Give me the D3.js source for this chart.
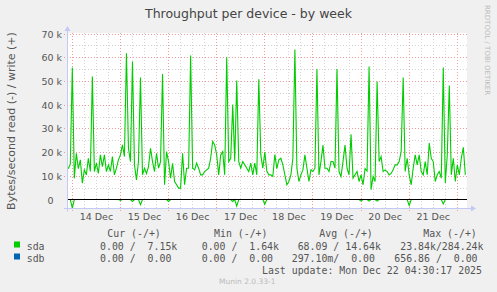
<!DOCTYPE html>
<html lang="en">
<head>
<meta charset="UTF-8"/>
<title>Throughput per device - by week</title>
<script src="https://d3js.org/d3.v7.min.js"></script>
<style>
  body { margin: 0; background-color: #f0f0f0; }
  svg text { font-family: "DejaVu Sans", sans-serif; fill: #555; }
  svg text.mono { font-family: "DejaVu Sans Mono", monospace; font-size: 9.9px; white-space: pre; }
</style>
</head>
<body>
<script>
// sample start (hourly samples), values in k bytes/s
var startTime = Date.UTC(2025, 11, 13, 22, 0);

var sdaWrite = [
  13, 15, 55.7, 9, 19.5, 13, 16.7, 6.9, 12.5, 10.4,
  17.4, 11.8, 51.9, 11.8, 15.3, 11, 18.8, 13.9, 18.8, 11.8,
  14.6, 11.8, 18.1, 10.4, 13.2, 16.7, 18.8, 23, 18.1, 61.7,
  21.6, 16, 58.2, 14.6, 8.3, 16, 51.4, 10.4, 13.2, 11,
  13.9, 21.6, 16, 11.8, 19.5, 13.2, 16, 52.9, 6.2, 20.2,
  16, 9, 15.3, 7.6, 6.2, 4.8, 4.8, 19.5, 6.2, 13.2,
  13.2, 60.7, 13.2, 12.5, 15.3, 13.2, 10.4, 10.4, 11.8, 12.5,
  13.2, 17.4, 24.5, 23, 18.8, 10.4, 18.8, 20.2, 10.4, 60,
  16, 17.4, 40, 16, 50.2, 16, 13.2, 16, 14.6, 13.2,
  11.8, 15.3, 10.4, 15.3, 10.4, 50.7, 18.8, 13.2, 20, 12,
  10.4, 10.4, 9.7, 19, 13, 16.7, 17.4, 14.6, 10.4, 6.2,
  7.6, 10.4, 17.4, 63.3, 13.2, 7.6, 10.4, 12.5, 18.8, 13.2,
  7.6, 12.5, 11.8, 13.2, 55, 10.4, 16, 23, 13.2, 13.2,
  11.8, 16, 16, 13.2, 55, 11.8, 9.7, 16, 23, 13.2,
  10.4, 27.5, 9, 10.4, 11.8, 7.6, 10.4, 6.2, 13, 12,
  56.1, 4.1, 9.7, 7.6, 49.8, 16, 18.1, 11.8, 12.5, 11.8,
  10.4, 11, 12.5, 14.6, 14.6, 16, 20.2, 51.4, 11.8, 17.4,
  10.4, 6.2, 13.2, 18.8, 14.6, 18.8, 11.8, 10.4, 16, 10.4,
  23.8, 17.4, 16, 7.6, 10.4, 11.8, 9, 55.7, 7, 18.8,
  48.1, 10.4, 17.4, 7.6, 14.6, 10.4, 17.4, 22, 10.4
];

var sdaRead = [
  0, 0, -3.6, 0, 0, 0, 0, 0, 0, 0,
  0, 0, 0, 0, 0, 0, 0, 0, 0, 0,
  0, 0, 0, 0, 0, 0, -0.4, 0, 0, 0,
  0, 0, -0.8, 0, 0, 0, -2.2, 0, 0, 0,
  0, 0, 0, 0, 0, 0, 0, 0, 0, 0,
  -0.8, 0, 0, 0, 0, 0, 0, 0, 0, 0,
  0, 0, 0, 0, 0, 0, 0, 0, 0, 0,
  0, 0, 0, 0, 0, 0, 0, 0, 0, 0,
  0, 0, -0.8, 0, -2.8, 0, 0, 0, 0, 0,
  0, 0, 0, 0, 0, 0, 0, 0, -2.0, 0,
  0, 0, 0, 0, 0, 0, 0, 0, 0, 0,
  0, 0, 0, 0, 0, 0, 0, 0, 0, 0,
  0, 0, 0, 0, 0, 0, 0, 0, 0, 0,
  0, 0, 0, 0, 0, 0, 0, 0, 0, 0,
  0, 0, 0, 0, 0, 0, -0.7, 0, 0, 0,
  -0.7, 0, 0, 0, -0.7, 0, 0, 0, 0, 0,
  0, 0, 0, 0, 0, 0, 0, 0, 0, 0,
  -2.5, 0, 0, 0, 0, 0, 0, 0, 0, 0,
  0, 0, 0, 0, 0, 0, 0, -1.9, 0, 0,
  0, 0, 0, 0, 0, 0, 0, 0, 0
];

var sdbValue = 0; // sdb flat at zero the whole week

var yTicks = [0, 10000, 20000, 30000, 40000, 50000, 60000, 70000];
var yTickLabels = ["0", "10 k", "20 k", "30 k", "40 k", "50 k", "60 k", "70 k"];
var dayLabels = ["14 Dec", "15 Dec", "16 Dec", "17 Dec", "18 Dec", "19 Dec", "20 Dec", "21 Dec"];

var legendNames = ["sda", "sdb"];
var legendColors = ["#00cc00", "#0066b3"];
var legendHeads = ["Cur (-/+)", "Min (-/+)", "Avg (-/+)", "Max (-/+)"];
var curVals = ["0.00 /  7.15k", "0.00 /  0.00"];
var minVals = ["0.00 /  1.64k", "0.00 /  0.00"];
var avgVals = [" 68.09 / 14.64k", "297.10m/  0.00"];
var maxVals = [" 23.84k/284.24k", "656.86 /  0.00"];

var w = 497;
var h = 292;
// note: "top" is reserved on window, so plot edges get their own names
var pLeft = 67, pRight = 467, pTop = 33, pBottom = 208.5;

var svg = d3.select("body").append("svg")
  .attr("width", w)
  .attr("height", h);

svg.append("rect").attr("width", w).attr("height", h).attr("fill", "#f0f0f0");

var x = d3.scaleUtc()
  .domain([new Date(Date.UTC(2025, 11, 13, 21, 21)), new Date(Date.UTC(2025, 11, 22, 4, 50))])
  .range([pLeft, pRight]);

var y = d3.scaleLinear()
  .domain([-3795, 70000])
  .range([pBottom, 33.5]);

var times = sdaWrite.map(function(d, i) { return new Date(startTime + i * 3600000); });

// plot background
svg.append("rect")
  .attr("x", pLeft).attr("y", pTop)
  .attr("width", pRight - pLeft).attr("height", pBottom - pTop)
  .attr("fill", "#ffffff");

var grid = svg.append("g");

// minor grid: every 6h and every 5k
var sixHours = d3.utcHour.every(6).range(x.domain()[0], x.domain()[1])
  .filter(function(d) { return d.getUTCHours() != 0; });
grid.selectAll(".vminor").data(sixHours).enter().append("line")
  .attr("x1", function(d) { return Math.floor(x(d)) + 0.5; })
  .attr("x2", function(d) { return Math.floor(x(d)) + 0.5; })
  .attr("y1", pTop).attr("y2", pBottom)
  .attr("stroke", "#d4d4d4").attr("stroke-dasharray", "1,2");

var halfTicks = yTicks.slice(0, -1).map(function(d) { return d + 5000; });
grid.selectAll(".hminor").data(halfTicks).enter().append("line")
  .attr("x1", pLeft).attr("x2", pRight)
  .attr("y1", function(d) { return Math.round(y(d)) + 0.5; })
  .attr("y2", function(d) { return Math.round(y(d)) + 0.5; })
  .attr("stroke", "#d4d4d4").attr("stroke-dasharray", "1,2");

// major grid: days and every 10k
var days = d3.utcDay.range(x.domain()[0], x.domain()[1]);
grid.selectAll(".vmajor").data(days).enter().append("line")
  .attr("x1", function(d) { return Math.floor(x(d)) + 0.5; })
  .attr("x2", function(d) { return Math.floor(x(d)) + 0.5; })
  .attr("y1", pTop).attr("y2", pBottom + 3)
  .attr("stroke", "#f29a9a").attr("stroke-dasharray", "1,2");

grid.selectAll(".hmajor").data(yTicks.slice(1)).enter().append("line")
  .attr("x1", pLeft - 3).attr("x2", pRight)
  .attr("y1", function(d) { return Math.round(y(d)) + 0.5; })
  .attr("y2", function(d) { return Math.round(y(d)) + 0.5; })
  .attr("stroke", "#f29a9a").attr("stroke-dasharray", "1,2");

// y tick labels
svg.selectAll(".ylab").data(yTicks).enter().append("text")
  .attr("x", function(d) { return d == 0 ? 53.5 : 62; })
  .attr("y", function(d) { return Math.round(y(d)) + 0.5; })
  .attr("dy", "0.35em")
  .attr("text-anchor", "end")
  .style("font-size", "9.5px")
  .text(function(d, i) { return yTickLabels[i]; });

// x tick labels at noon of each day
var noons = days.map(function(d) { return d3.utcHour.offset(d, 12); });
svg.selectAll(".xlab").data(noons).enter().append("text")
  .attr("x", function(d) { return x(d); })
  .attr("y", 219.5)
  .attr("text-anchor", "middle")
  .style("font-size", "9.5px")
  .text(function(d, i) { return dayLabels[i]; });

svg.append("clipPath").attr("id", "plotclip")
  .append("rect").attr("x", pLeft).attr("y", pTop - 2)
  .attr("width", pRight - pLeft).attr("height", pBottom - pTop + 2);

var line = d3.line()
  .x(function(d, i) { return x(times[i]); })
  .y(function(d) { return y(d * 1000); });

var lines = svg.append("g").attr("clip-path", "url(#plotclip)");

lines.append("path").datum(sdaRead)
  .attr("d", line).attr("fill", "none")
  .attr("stroke", legendColors[0]).attr("stroke-width", 1.1);

lines.append("path").datum(sdaWrite.map(function() { return sdbValue; }))
  .attr("d", line).attr("fill", "none")
  .attr("stroke", legendColors[1]).attr("stroke-width", 1);

lines.append("line")
  .attr("x1", pLeft).attr("x2", pRight)
  .attr("y1", y(0)).attr("y2", y(0))
  .attr("stroke", "#000").attr("stroke-width", 1);

lines.append("path").datum(sdaWrite)
  .attr("d", line).attr("fill", "none")
  .attr("stroke", legendColors[0]).attr("stroke-width", 1.1);

// axes with arrows
var axisColor = "#c4c8f4";
svg.append("line").attr("x1", pLeft + 0.5).attr("x2", pLeft + 0.5)
  .attr("y1", 29).attr("y2", pBottom + 3)
  .attr("stroke", axisColor);
svg.append("path").attr("d", "M64.5,31 L67.5,26 L70.5,31 Z").attr("fill", axisColor);
svg.append("line").attr("x1", pLeft - 3).attr("x2", pRight + 5)
  .attr("y1", pBottom).attr("y2", pBottom)
  .attr("stroke", axisColor);
svg.append("path").attr("d", "M471,205.5 L476,208.5 L471,211.5 Z").attr("fill", axisColor);

// title and labels
svg.append("text")
  .attr("x", 248.5).attr("y", 17.5)
  .attr("text-anchor", "middle")
  .style("font-size", "12.5px")
  .style("fill", "#444")
  .text("Throughput per device - by week");

svg.append("text")
  .attr("transform", "translate(14.5,121) rotate(-90)")
  .attr("text-anchor", "middle")
  .style("font-size", "11px")
  .text("Bytes/second read (-) / write (+)");

svg.append("text")
  .attr("transform", "translate(485,5) rotate(90)")
  .style("font-size", "7px")
  .style("fill", "#bbb")
  .text("RRDTOOL / TOBI OETIKER");

// legend
var headX = [107.3, 214, 319.3, 423.3];
svg.selectAll(".lhead").data(legendHeads).enter().append("text")
  .attr("class", "mono")
  .attr("x", function(d, i) { return headX[i]; })
  .attr("y", 236.5)
  .text(function(d) { return d; });

legendNames.forEach(function(name, i) {
  var yy = 249.5 + i * 12;
  svg.append("rect")
    .attr("x", 14).attr("y", yy - 8)
    .attr("width", 6).attr("height", 6)
    .attr("fill", legendColors[i]);
  svg.append("text").attr("class", "mono").attr("x", 26.7).attr("y", yy).text(name);
  svg.append("text").attr("class", "mono").attr("x", 100).attr("y", yy).text(curVals[i]);
  svg.append("text").attr("class", "mono").attr("x", 201.7).attr("y", yy).text(minVals[i]);
  svg.append("text").attr("class", "mono").attr("x", 291.7).attr("y", yy).text(avgVals[i]);
  svg.append("text").attr("class", "mono").attr("x", 394.3).attr("y", yy).text(maxVals[i]);
});

svg.append("text").attr("class", "mono")
  .attr("x", 262).attr("y", 273.5)
  .text("Last update: Mon Dec 22 04:30:17 2025");

svg.append("text")
  .attr("x", 219).attr("y", 284)
  .style("font-size", "7.5px")
  .style("fill", "#bbb")
  .text("Munin 2.0.33-1");
</script>
</body>
</html>
